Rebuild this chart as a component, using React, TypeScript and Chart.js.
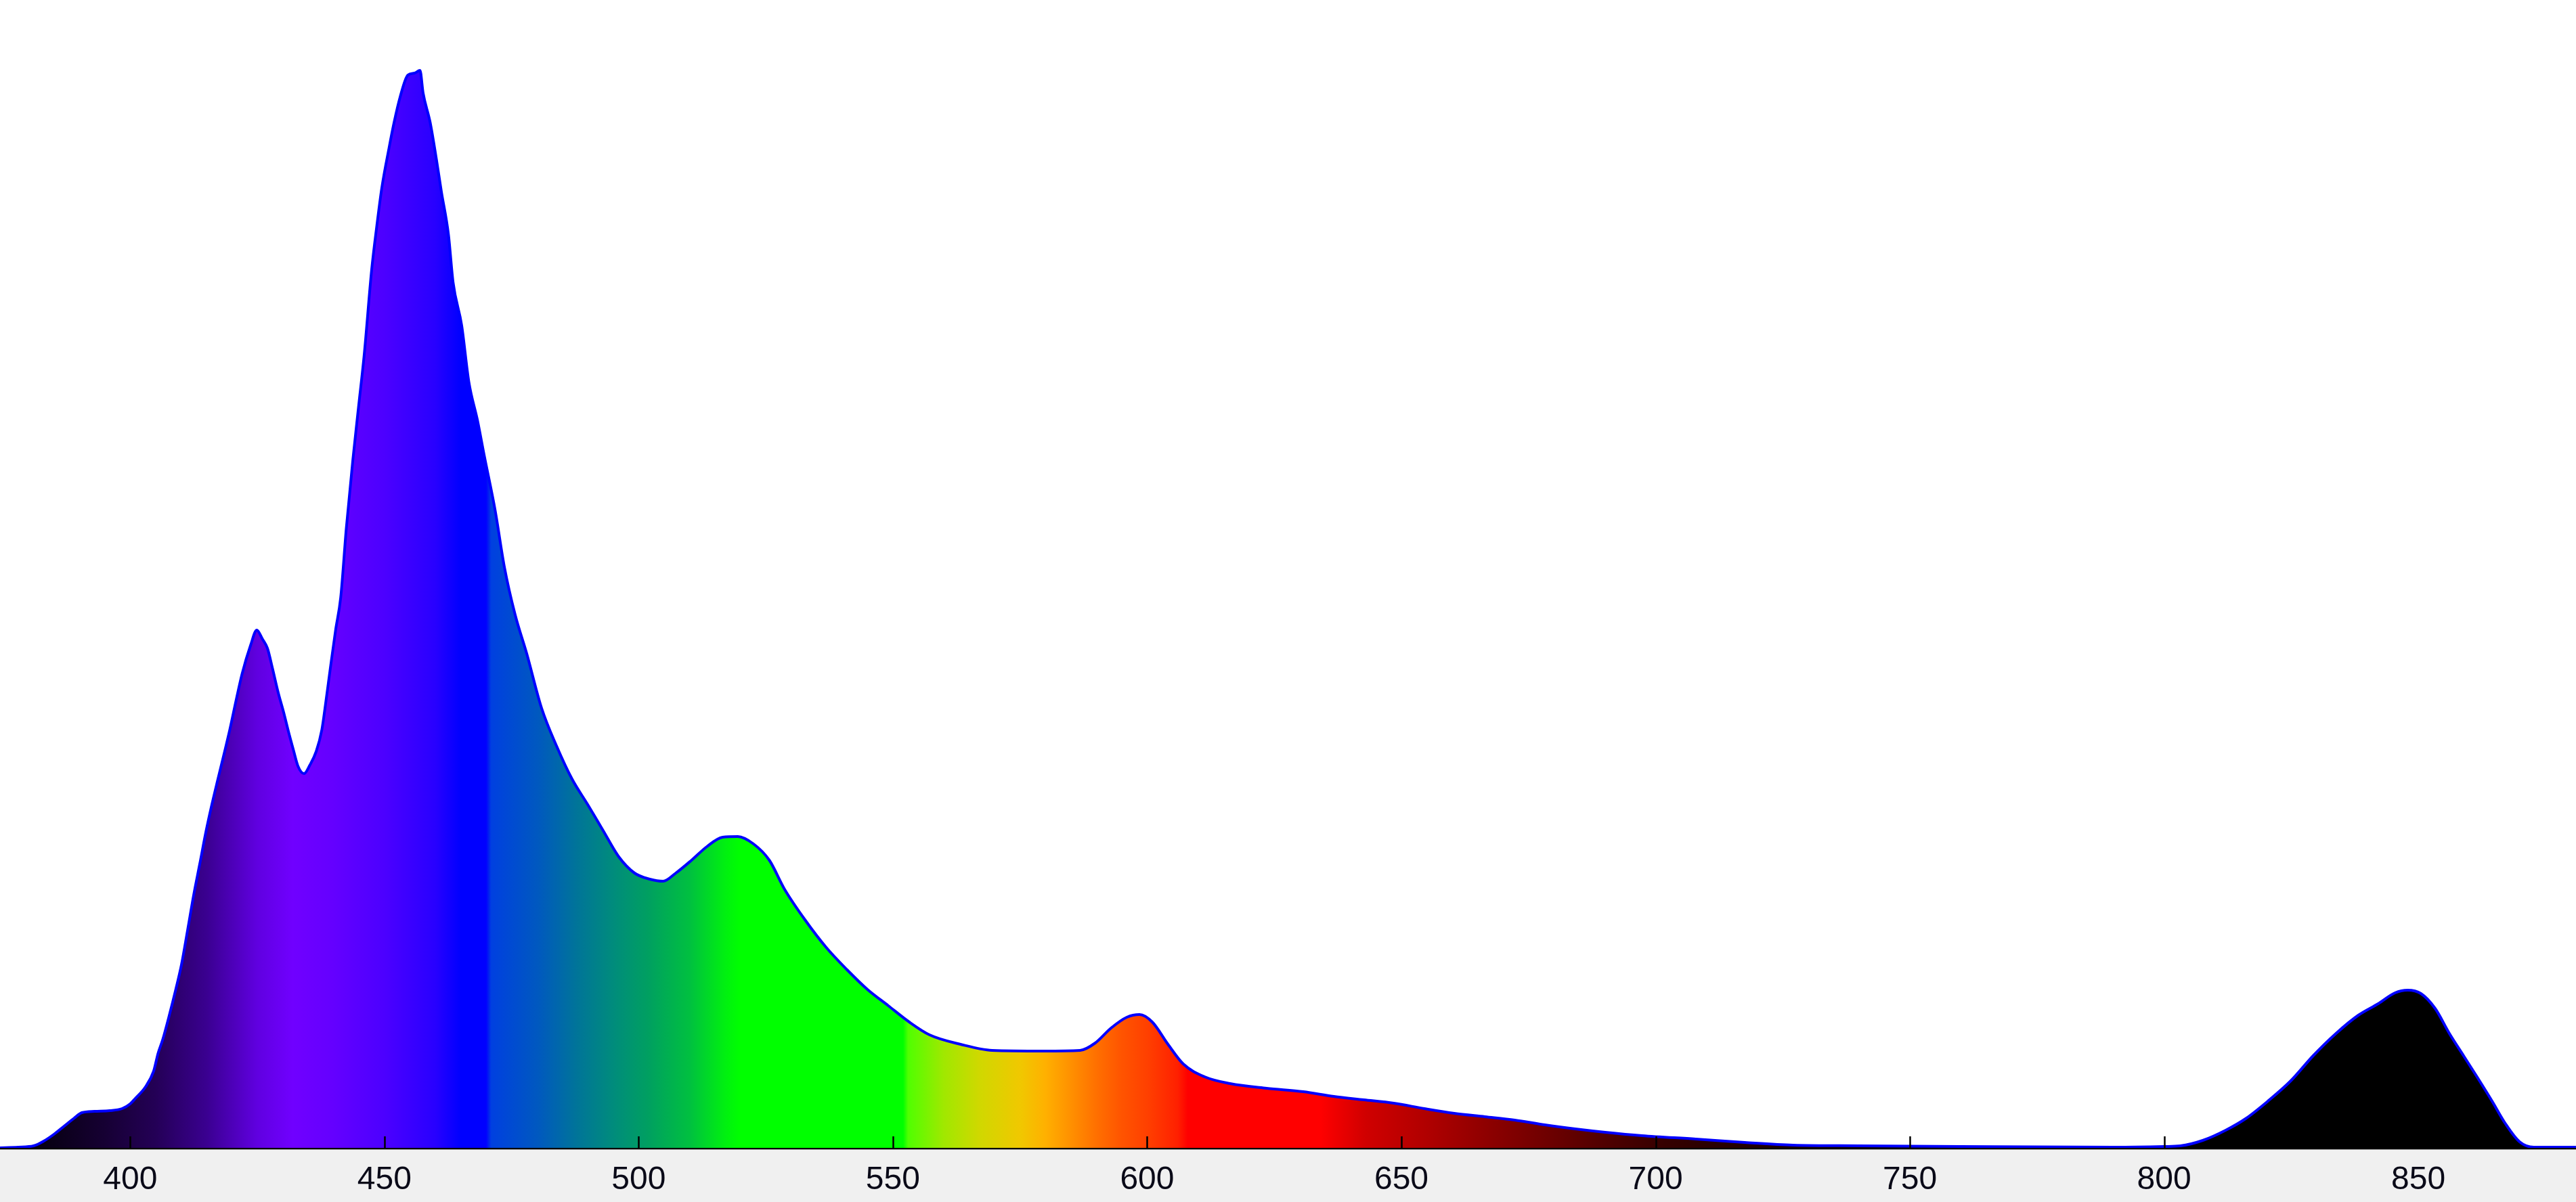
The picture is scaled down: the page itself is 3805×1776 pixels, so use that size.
import React, { useEffect, useRef } from "react";
import { Chart, registerables } from "chart.js";

Chart.register(...registerables);

// Wavelength (nm) of each sample
const wavelengths: number[] = [
  374, 378, 381, 383, 385, 387, 389, 390.5, 393, 396, 398.4, 400, 401, 403, 404.6, 405.5, 406.4, 407.7, 409,
  410.1, 411.3, 412.5, 413.7, 414.9, 416, 417.2, 418.4, 419.6, 420.8, 422, 423.7, 424.9, 426, 427, 428, 429.1,
  430.2, 431.2, 432.1, 433, 434.2, 435.3, 436.6, 437.7, 438.5, 439.3, 440.4, 441.4, 442.5, 443.8, 444.9, 446,
  447.5, 448.5, 449.5, 450.9, 451.9, 453.1, 454.6, 455.9, 457, 457.6, 459, 460.3, 461.2, 462.6, 463.5, 465.2,
  466.6, 468.3, 469.6, 471.8, 473.6, 475.7, 478, 480.9, 483.9, 486.9, 490, 493, 496.1, 499.2, 502.2, 504.8,
  507.3, 510.4, 513.4, 516.5, 519.5, 522.6, 525.7, 528.7, 532.9, 536.9, 541, 545, 549.1, 553.2, 557.2, 563.3,
  569.5, 579.7, 586.8, 589.8, 592.9, 596, 598.5, 601, 604.1, 607.1, 611.3, 616.3, 623.5, 630.7, 636.7, 642.6,
  648.5, 654.5, 660.4, 666.4, 672.3, 678.2, 684.2, 690.1, 697.3, 707.9, 717.5, 727, 740, 760, 790, 800, 803.2,
  807.6, 812.1, 816, 820.4, 824.9, 829.3, 833.8, 838.2, 842.1, 845.4, 847.9, 850.5, 853.3, 856.1, 858.9, 861.7,
  864.5, 867.1, 869.9, 872.7, 881,
];

// Intensity (a.u.) at each wavelength
const intensity: number[] = [
  0, 1, 3, 10, 20, 32, 44, 52, 54, 55, 58, 65, 73, 90, 113, 140, 160, 196, 235,
  271, 322, 374, 420, 467, 505, 543, 580, 618, 660, 700, 743, 765, 752, 738, 708, 673,
  643, 613, 588, 564, 553, 565, 586, 618, 660, 705, 765, 813, 915, 1017, 1094, 1170,
  1298, 1362, 1419, 1477, 1515, 1553, 1585, 1588, 1592, 1559, 1515, 1457, 1413, 1349, 1279, 1215,
  1132, 1075, 1024, 941, 858, 788, 730, 650, 593, 545, 507, 469, 430, 406, 397, 394,
  406, 425, 445, 459, 460, 449, 425, 382, 335, 296, 263, 234, 210, 186, 167, 153,
  144, 143, 144, 155, 177, 193, 197, 186, 153, 124, 105, 95, 88, 83, 76, 71,
  66, 58, 51, 46, 41, 34, 28, 23, 18, 13, 8, 4, 3, 2, 1, 2, 3,
  11, 26, 43, 69, 99, 136, 169, 196, 213, 229, 233, 228, 206, 169, 136, 103,
  69, 36, 9, 1, 1,
];

// X axis range and tick step (nm)
const xMin = 374.4;
const xMax = 881;
const tickStep = 50;
const yMax = 1696;

// Spectral colour stops for the fill (nm -> colour)
const stopNm: number[] = [
  374, 385, 395, 405, 415, 425, 432, 440, 450, 460, 465, 470, 471, 480, 488, 495, 502, 510, 517, 520,
  552, 553, 560, 567, 575, 580, 585, 590, 595, 600, 606, 608, 634, 643, 655, 666, 678, 690, 702, 720, 740, 760, 881,
];
const stopColor: string[] = [
  "#000000", "#0a0018", "#160033", "#240056", "#3a0090", "#6000e0", "#7000ff", "#6400ff", "#4c00ff", "#2800ff",
  "#0000ff", "#0000ff", "#0040e0", "#0058c0", "#007598", "#008c7c", "#00a060", "#00c040", "#00f010", "#00ff00",
  "#00ff00", "#50ff00", "#a0e800", "#d0d800", "#f0c800", "#ffb000", "#ff9000", "#ff7000", "#ff5400", "#ff4000",
  "#ff2000", "#ff0000", "#ff0000", "#d00000", "#b00000", "#900000", "#700000", "#500000", "#350000", "#200000",
  "#0c0000", "#000000", "#000000",
];

const bandPlugin = {
  id: "band",
  beforeDraw(chart: any) {
    const { ctx, chartArea, width, height } = chart;
    ctx.save();
    ctx.fillStyle = "#ffffff";
    ctx.fillRect(0, 0, width, height);
    ctx.fillStyle = "#f0f0f0";
    ctx.fillRect(0, chartArea.bottom, width, height - chartArea.bottom);
    ctx.fillStyle = "#a0a0a0";
    ctx.fillRect(0, chartArea.bottom + 1, width, 2);
    ctx.restore();
  },
  afterDraw(chart: any) {
    const { ctx, chartArea } = chart;
    const xs = chart.scales.x;
    ctx.save();
    ctx.strokeStyle = "#000000";
    ctx.lineWidth = 2.5;
    xs.ticks.forEach((t: any) => {
      const px = Math.round(xs.getPixelForValue(t.value)) + 0.5;
      ctx.beginPath();
      ctx.moveTo(px, chartArea.bottom);
      ctx.lineTo(px, chartArea.bottom - 17);
      ctx.stroke();
    });
    ctx.restore();
  },
};

export default function App() {
  const ref = useRef<HTMLCanvasElement | null>(null);

  useEffect(() => {
    document.body.style.margin = "0";
    document.body.style.background = "#ffffff";
    const canvas = ref.current;
    if (!canvas) return;
    const points = wavelengths.map((w, i) => ({ x: w, y: intensity[i] }));
    const chart = new Chart(canvas, {
      type: "line",
      data: {
        datasets: [
          {
            data: points,
            borderColor: "#0000ff",
            borderWidth: 4,
            pointRadius: 0,
            cubicInterpolationMode: "monotone",
            fill: "origin",
            backgroundColor: (c: any) => {
              const ch = c.chart;
              const area = ch.chartArea;
              if (!area) return "#000000";
              const xs = ch.scales.x;
              const g = ch.ctx.createLinearGradient(area.left, 0, area.right, 0);
              const span = area.right - area.left;
              stopNm.forEach((nm, i) => {
                let f = (xs.getPixelForValue(nm) - area.left) / span;
                f = Math.min(1, Math.max(0, f));
                g.addColorStop(f, stopColor[i]);
              });
              return g;
            },
          },
        ],
      },
      options: {
        animation: false,
        responsive: false,
        maintainAspectRatio: false,
        devicePixelRatio: 1,
        layout: { padding: 0 },
        plugins: { legend: { display: false }, tooltip: { enabled: false } },
        scales: {
          x: {
            type: "linear",
            min: xMin,
            max: xMax,
            z: 1,
            grid: { display: true, drawOnChartArea: false, drawTicks: false },
            border: { display: true, color: "#000000", width: 3 },
            ticks: {
              stepSize: tickStep,
              includeBounds: false,
              padding: 19,
              color: "#0a0a18",
              font: { family: "'Liberation Sans', Arial, sans-serif", size: 48 },
              maxRotation: 0,
              autoSkip: false,
            },
            afterFit: (scale: any) => {
              scale.height = 80;
            },
          },
          y: {
            type: "linear",
            display: false,
            min: 0,
            max: yMax,
          },
        },
      },
      plugins: [bandPlugin],
    });
    return () => chart.destroy();
  }, []);

  return <canvas ref={ref} width={3805} height={1776} style={{ display: "block" }} />;
}
